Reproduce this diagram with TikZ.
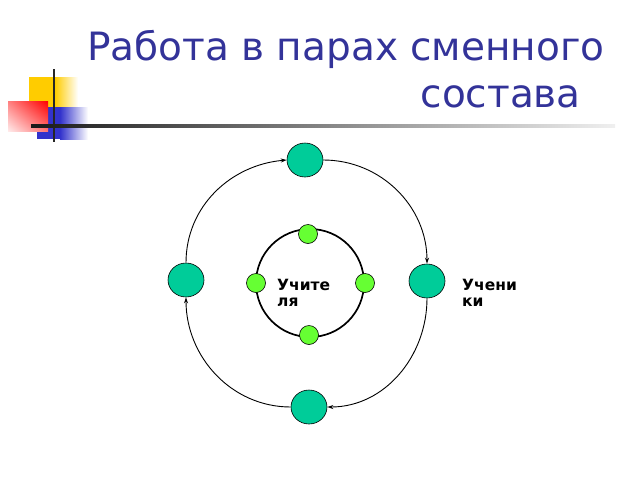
\documentclass[tikz,border=0pt]{standalone}
\usepackage{fontspec}
\setmainfont{DejaVu Sans}
\usetikzlibrary{arrows.meta,shapes.geometric,shadings}
\definecolor{titleblue}{RGB}{51,51,153}
\definecolor{tealg}{RGB}{0,204,153}
\definecolor{lgreen}{RGB}{102,255,51}
\definecolor{gold}{RGB}{255,204,0}
\definecolor{dblue}{RGB}{51,51,204}
\tikzset{
  bignode/.style={ellipse, draw=black, line width=0.6pt, fill=tealg, minimum width=36pt, minimum height=34pt, inner sep=0pt},
  smallnode/.style={circle, draw=black, line width=0.6pt, fill=lgreen, minimum size=19pt, inner sep=0pt},
  arc/.style={draw=black, line width=0.9pt, -{Stealth[length=6pt,width=4pt]}},
  lbl/.style={font=\bfseries\fontsize{15.5}{16}\selectfont, align=left, inner sep=0pt},
  ttl/.style={font=\fontsize{39}{46}\selectfont, text=titleblue, inner sep=0pt}
}
\begin{document}
\begin{tikzpicture}[x=1pt,y=-1pt]
\useasboundingbox (0,0) rectangle (640,480);
% decoration
\fill[gold] (29,77) rectangle (55,125);
\shade[left color=gold, right color=white] (55,77) rectangle (78,125);
\fill[dblue] (37,107) rectangle (60,139);
\shade[left color=dblue, right color=white] (60,107) rectangle (88,139);
\shade[upper right=red, upper left=red!50, lower right=red!55, lower left=red!8] (8,101) rectangle (48,131);
\fill[black!85] (52.5,69) rectangle (55,142);
\shade[left color=black!90, middle color=black!65, right color=black!6] (31,124.5) rectangle (615,127.5);
% title
\node[ttl, anchor=base west] (title1) at (87,60) {Работа в парах сменного};
\node[ttl, anchor=base east] (title2) at (581,107) {состава};
% inner circle
\node[circle, draw=black, line width=1.7pt, minimum size=108pt, inner sep=0pt] (ic) at (310,283) {};
\node[smallnode] (it) at (308,234) {};
\node[smallnode] (il) at (256,283) {};
\node[smallnode] (ir) at (365,283) {};
\node[smallnode] (ib) at (309,335) {};
% outer nodes
\node[bignode] (t) at (305,160) {};
\node[bignode] (l) at (186,280) {};
\node[bignode] (r) at (427,281) {};
\node[bignode] (b) at (309,407) {};
% arcs
\draw[arc] (l.north) to[out=90,in=185] (t.west);
\draw[arc] (t.east) to[out=0,in=90] (r.north);
\draw[arc] (r.south) to[out=-90,in=0] (b.east);
\draw[arc] (b.west) to[out=180,in=-90] (l.south);
% labels
\node[lbl, anchor=base west] (lt) at (277,306) {Учите\\ля};
\node[lbl, anchor=base west] (ls) at (462,306) {Учени\\ки};
\end{tikzpicture}
\end{document}
